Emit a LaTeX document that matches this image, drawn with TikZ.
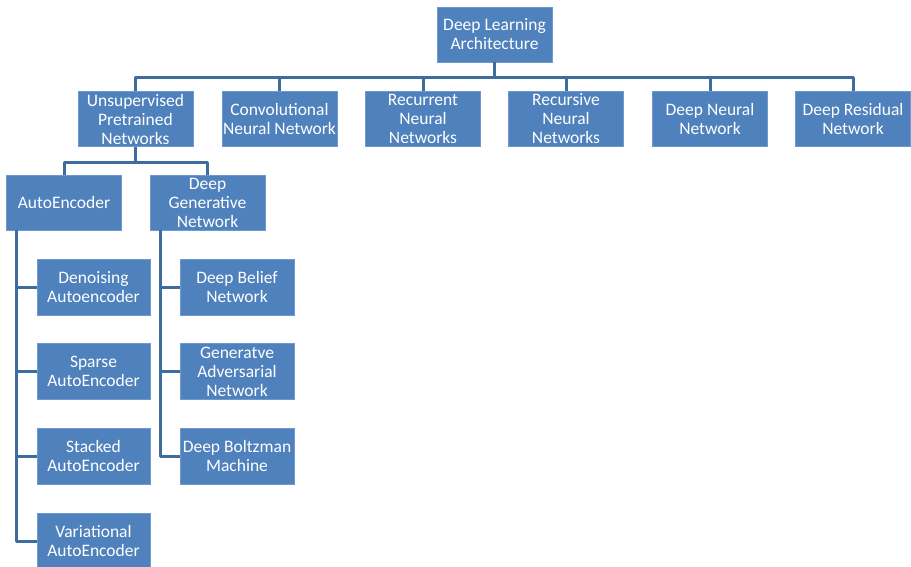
\documentclass[tikz,border=0pt]{standalone}
\usepackage{fontspec}
\setmainfont{Carlito}
\definecolor{boxfill}{HTML}{4F81BD}
\definecolor{boxedge}{HTML}{6E9AD0}
\definecolor{linec}{HTML}{3E6C9F}
\tikzset{
  box/.style={draw=boxedge, line width=0.8pt, fill=boxfill, text=white, align=center,
    minimum width=115pt, minimum height=55pt, inner sep=0pt,
    font=\fontsize{17.5}{19}\selectfont},
  conn/.style={draw=linec, line width=3pt, line join=round}
}
\begin{document}
\begin{tikzpicture}[x=1pt,y=-1pt]
\useasboundingbox (0,0) rectangle (911,566);
% root
\node[box] (root) at (494.5,34.5) {Deep Learning\\Architecture};
% level 1
\node[box] (unsup) at (135.5,119) {Unsupervised\\Pretrained\\Networks};
\node[box] (cnn) at (279.5,119) {Convolutional\\Neural Network};
\node[box] (rnn) at (423,119) {Recurrent\\Neural\\Networks};
\node[box] (recnn) at (566,119) {Recursive\\Neural\\Networks};
\node[box] (dnn) at (710,119) {Deep Neural\\Network};
\node[box] (res) at (853,119) {Deep Residual\\Network};
% level 2
\node[box] (ae) at (64,202.5) {AutoEncoder};
\node[box] (dgn) at (207.5,202.5) {Deep\\Generative\\Network};
% level 3 left
\node[box, minimum width=113pt, minimum height=56pt] (den) at (93.5,287) {Denoising\\Autoencoder};
\node[box, minimum width=113pt, minimum height=56pt] (sp) at (93.5,371.5) {Sparse\\AutoEncoder};
\node[box, minimum width=113pt, minimum height=56pt] (st) at (93.5,456) {Stacked\\AutoEncoder};
\node[box, minimum width=113pt, minimum height=56pt] (vae) at (93.5,541) {Variational\\AutoEncoder};
% level 3 right
\node[box, minimum width=114pt, minimum height=56pt] (dbn) at (237,287) {Deep Belief\\Network};
\node[box, minimum width=114pt, minimum height=56pt] (gan) at (237,371.5) {Generatve\\Adversarial\\Network};
\node[box, minimum width=114pt, minimum height=56pt] (dbm) at (237,456) {Deep Boltzman\\Machine};
% connectors level 1
\coordinate (bus) at (0,77);
\draw[conn] (root.south) -- (root.south |- bus);
\draw[conn] (unsup.north) -- (unsup.north |- bus) -- (res.north |- bus) -- (res.north);
\draw[conn] (cnn.north) -- (cnn.north |- bus);
\draw[conn] (rnn.north) -- (rnn.north |- bus);
\draw[conn] (recnn.north) -- (recnn.north |- bus);
\draw[conn] (dnn.north) -- (dnn.north |- bus);
% connectors level 2
\coordinate (bus2) at (0,162);
\draw[conn] (unsup.south) -- (unsup.south |- bus2);
\draw[conn] (ae.north) -- (ae.north |- bus2) -- (dgn.north |- bus2) -- (dgn.north);
% connectors level 3
\coordinate (aeL) at (16,230);
\coordinate (dgL) at (160,230);
\draw[conn] (aeL) |- (vae.west);
\draw[conn] (den.west) -- (den.west -| aeL);
\draw[conn] (sp.west) -- (sp.west -| aeL);
\draw[conn] (st.west) -- (st.west -| aeL);
\draw[conn] (dgL) |- (dbm.west);
\draw[conn] (dbn.west) -- (dbn.west -| dgL);
\draw[conn] (gan.west) -- (gan.west -| dgL);
\end{tikzpicture}
\end{document}
